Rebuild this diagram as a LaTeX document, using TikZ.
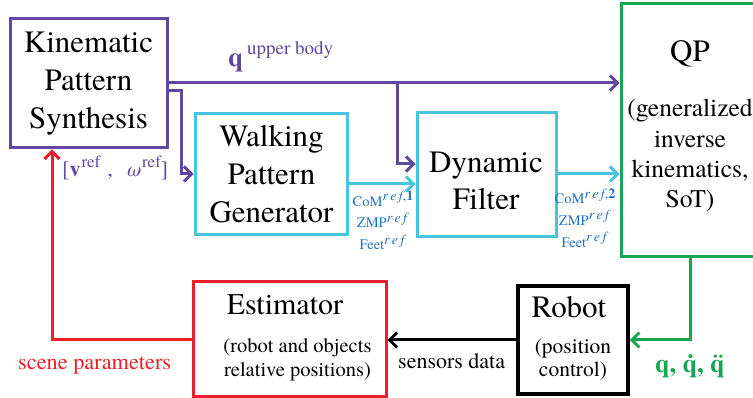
\documentclass[tikz,border=0pt]{standalone}
\usepackage{fontspec}
\setmainfont{texgyretermes}[Extension=.otf, UprightFont=*-regular, BoldFont=*-bold, ItalicFont=*-italic, BoldItalicFont=*-bolditalic]
\usetikzlibrary{arrows.meta}
\definecolor{kpsc}{RGB}{96,72,160}
\definecolor{cyc}{RGB}{72,196,222}
\definecolor{grc}{RGB}{20,166,80}
\definecolor{rdc}{RGB}{236,30,40}
\definecolor{lbc}{RGB}{30,115,195}
\newcommand\myfs[2]{\fontsize{#1}{#2}\selectfont}
\newcommand\rfsup[1]{\raisebox{5.5pt}{\myfs{14}{16}\textit{r\,e\,f}#1}}
\newcommand\plainsup[1]{\raisebox{9pt}{\myfs{17}{20}#1}}
\begin{document}
\begin{tikzpicture}[x=1pt,y=-1pt,
  box/.style={draw, line width=3pt, inner sep=0pt},
  txt/.style={inner sep=0pt, align=center},
  lnk/.style={line width=3pt, -{Straight Barb[length=7.5pt,width=15pt]}},
  pl/.style={lnk, draw=kpsc},
  cl/.style={lnk, draw=cyc},
  gl/.style={lnk, draw=grc},
  bl/.style={lnk, draw=black},
  rl/.style={lnk, draw=rdc},
]
\useasboundingbox (0,0) rectangle (753,398);

% boxes
\node[box, draw=kpsc, minimum width=157pt, minimum height=129pt] (kps) at (88.5,83.5) {};
\node[box, draw=cyc, minimum width=152pt, minimum height=121pt] (wpg) at (271,174.5) {};
\node[box, draw=cyc, minimum width=139pt, minimum height=124pt] (df) at (486.5,175) {};
\node[box, draw=grc, minimum width=139pt, minimum height=252.7pt] (qp) at (690.5,129.7) {};
\node[box, draw=rdc, minimum width=193pt, minimum height=114pt] (est) at (289.5,339) {};
\node[box, draw=black, line width=3.5pt, minimum width=110pt, minimum height=108pt] (robot) at (573,340) {};

% box texts
\node[txt, font=\myfs{31}{38}] (kpst) at (88.5,83.4) {\strut Kinematic\\\strut Pattern\\\strut Synthesis};
\node[txt, font=\myfs{31}{38}] (wpgt) at (271.5,177.4) {\strut Walking\\\strut Pattern\\\strut Generator};
\node[txt, font=\myfs{31}{37}] (dft) at (486,184.1) {\strut Dynamic\\\strut Filter};
\node[txt, font=\myfs{31}{38}] (qpt) at (690,54.4) {\strut QP};
\node[txt, font=\myfs{25.5}{30.33}] (qps) at (690,156.4) {\strut(generalized\\\strut inverse\\\strut kinematics,\\\strut SoT)};
\node[txt, font=\myfs{30}{36}] (estt) at (285,307.8) {\strut Estimator};
\node[txt, font=\myfs{20.5}{24}] (ests) at (297.5,359.2) {\strut(robot and objects\\\strut relative positions)};
\node[txt, font=\myfs{31}{38}] (robt) at (569,310.4) {\strut Robot};
\node[txt, font=\myfs{21.5}{23}] (robs) at (573,359.9) {\strut(position\\\strut control)};

% connectors
\coordinate (brq) at (397,83);
\draw[pl] (kps.east |- 0,83) -- (qp.west |- 0,83);
\draw[pl] (brq) -- (397,164) -- (df.west |- 0,164);
\draw[pl] (kps.east |- 0,91) -| (181,174) -- (wpg.west |- 0,174);
\draw[cl] (wpg.east |- 0,184) -- (df.west |- 0,184);
\draw[cl] (df.east |- 0,174) -- (qp.west |- 0,174);
\draw[gl] (qp.south) |- (robot.east);
\draw[bl] (robot.west) -- (est.east |- robot.west);
\draw[rl] (est.west |- 0,340) -| (kps.south -| 52,0);

% labels
\node[inner sep=0pt, anchor=base west, text=kpsc] (qlab) at (228,67)
  {{\myfs{27}{30}\textbf{q}}\hspace{4pt}\raisebox{12pt}{\myfs{19}{22}upper body}};
\node[inner sep=0pt, anchor=base west, text=kpsc, font=\myfs{22}{26}] (vlab) at (62,177)
  {[\textbf{v}\hspace{1pt}\plainsup{ref}\hspace{7pt},\hspace{13pt}\textit{ω}\hspace{1pt}\plainsup{ref}]};
\node[txt, text=lbc, font=\myfs{14.5}{19}] (lab1) at (383,223.2)
  {\strut CoM\rfsup{,\textbf{1}}\\\strut ZMP\rfsup{}\\\strut Feet\rfsup{}};
\node[txt, text=lbc, font=\myfs{14.5}{19}] (lab2) at (585,220.7)
  {\strut CoM\rfsup{,\textbf{2}}\\\strut ZMP\rfsup{}\\\strut Feet\rfsup{}};
\node[inner sep=0pt, anchor=base west, font=\myfs{22}{26}] (sens) at (398,368) {sensors data};
\node[inner sep=0pt, anchor=base west, text=rdc, font=\myfs{22.3}{26}] (scene) at (18,370) {scene parameters};
\node[inner sep=0pt, anchor=base west, text=grc, font=\myfs{26}{30}\bfseries] (qqq) at (655,373) {q, \.q, \"q};
\end{tikzpicture}
\end{document}
